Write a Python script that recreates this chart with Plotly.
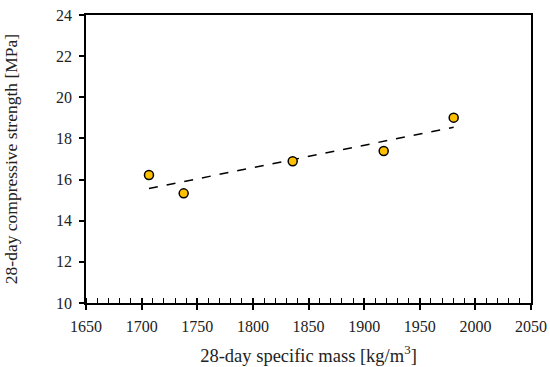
import numpy as np
import plotly.graph_objects as go

specific_mass = [1706.6, 1737.8, 1835.8, 1917.6, 1980.5]
strength = [16.22, 15.33, 16.89, 17.39, 19.01]

x_title = "28-day specific mass [kg/m<sup>3</sup>]"
y_title = "28-day compressive strength [MPa]"

slope, intercept = np.polyfit(specific_mass, strength, 1)
trend_x = [min(specific_mass), max(specific_mass)]
trend_y = [slope * v + intercept for v in trend_x]

font_family = "Liberation Serif, DejaVu Serif, serif"
x_range = [1650, 2050]

fig = go.Figure()
fig.add_trace(go.Scatter(x=trend_x, y=trend_y, mode="lines",
                         line=dict(color="black", width=1.5, dash="dash"),
                         showlegend=False, hoverinfo="skip"))
fig.add_trace(go.Scatter(x=specific_mass, y=strength, mode="markers", xaxis="x2",
                         marker=dict(color="#FFC000", size=9,
                                     line=dict(color="black", width=1.5)),
                         showlegend=False))

fig.update_layout(
    width=550, height=367,
    margin=dict(l=86, r=19, t=15, b=64),
    paper_bgcolor="white", plot_bgcolor="white",
    font=dict(family=font_family, size=16, color="#222"),
    xaxis=dict(range=x_range, dtick=50, tick0=1650, automargin=False,
               showgrid=False, zeroline=False,
               showline=True, linecolor="black", linewidth=1.5, mirror=True,
               ticks="outside", ticklen=5, tickwidth=1.5, tickcolor="black",
               ticklabelstandoff=3, ticklabeloverflow="allow",
               minor=dict(ticks="inside", dtick=10, tick0=1650, ticklen=5,
                          tickwidth=1.3, tickcolor="black"),
               title=dict(text=x_title, font=dict(size=18.5), standoff=15)),
    xaxis2=dict(range=x_range, dtick=50, tick0=1650, automargin=False,
                overlaying="x", anchor="y", side="bottom",
                showgrid=False, zeroline=False, showline=False,
                ticks="inside", ticklen=5, tickwidth=1.5, tickcolor="black",
                showticklabels=False),
    yaxis=dict(range=[10, 24], dtick=2, automargin=False,
               showgrid=False, zeroline=False,
               showline=True, linecolor="black", linewidth=1.5, mirror=True,
               ticks="outside", ticklen=5, tickwidth=1.5, tickcolor="black",
               ticklabelstandoff=4, ticklabeloverflow="allow",
               title=dict(text=y_title, font=dict(size=17.5), standoff=34)),
)

fig.write_html("out.html", config={"displayModeBar": False},
               post_script="document.body.style.margin='0';")
